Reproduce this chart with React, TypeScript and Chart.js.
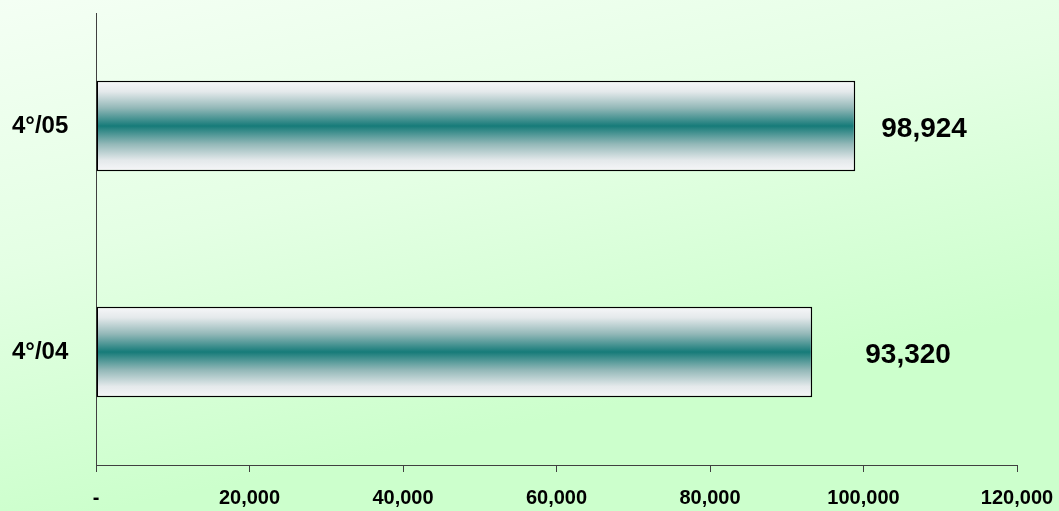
import React, { useEffect, useRef } from "react";
import { Chart, registerables } from "chart.js";

Chart.register(...registerables);

const categories = ["4°/05", "4°/04"];
const values = [98924, 93320];
const xMin = 0;
const xMax = 120000;
const xStep = 20000;

const FONT = "'Liberation Sans', Arial, sans-serif";

const fmt = (v: number) => (v === 0 ? "-" : v.toLocaleString("en-US"));

const bgPlugin = {
  id: "bgGradient",
  beforeDraw(chart: any) {
    const { ctx, width, height } = chart;
    const g = ctx.createLinearGradient(0, 0, width * 0.1, height);
    g.addColorStop(0, "#f4fff4");
    g.addColorStop(0.5, "#e4ffe4");
    g.addColorStop(1, "#ccffcc");
    ctx.save();
    ctx.fillStyle = g;
    ctx.fillRect(0, 0, width, height);
    ctx.restore();
  },
};

const barGradientPlugin = {
  id: "barGradient",
  beforeDatasetsDraw(chart: any) {
    const { ctx } = chart;
    chart.getDatasetMeta(0).data.forEach((bar: any) => {
      const top = bar.y - bar.height / 2;
      const bottom = bar.y + bar.height / 2;
      const g = ctx.createLinearGradient(0, top, 0, bottom);
      g.addColorStop(0, "#f7f7f9");
      g.addColorStop(0.12, "#e4e9eb");
      g.addColorStop(0.3, "#93b8b8");
      g.addColorStop(0.5, "#167b79");
      g.addColorStop(0.7, "#93b8b8");
      g.addColorStop(0.88, "#e4e9eb");
      g.addColorStop(1, "#f7f7f9");
      bar.options = { ...bar.options, backgroundColor: g };
    });
  },
};

const labelGaps = [26, 53];

const valueLabelPlugin = {
  id: "valueLabels",
  afterDatasetsDraw(chart: any) {
    const { ctx } = chart;
    ctx.save();
    ctx.font = `bold 28px ${FONT}`;
    ctx.fillStyle = "#000";
    ctx.textAlign = "left";
    ctx.textBaseline = "middle";
    chart.getDatasetMeta(0).data.forEach((bar: any, i: number) => {
      ctx.fillText(fmt(values[i]), bar.x + labelGaps[i], bar.y + 3);
    });
    ctx.restore();
  },
};

export default function App() {
  const ref = useRef<HTMLCanvasElement | null>(null);

  useEffect(() => {
    if (!ref.current) return;
    const chart = new Chart(ref.current, {
      type: "bar",
      data: {
        labels: categories,
        datasets: [
          {
            data: values,
            backgroundColor: () => "#167b79",
            borderColor: "#000",
            borderWidth: 1.5,
            borderSkipped: false,
            barPercentage: 0.5,
            categoryPercentage: 0.8,
          },
        ],
      },
      options: {
        indexAxis: "y",
        animation: false,
        responsive: true,
        maintainAspectRatio: false,
        layout: { padding: { left: 12, top: 13, right: 42, bottom: 0 } },
        plugins: {
          legend: { display: false },
          tooltip: { enabled: false },
        },
        scales: {
          x: {
            min: xMin,
            max: xMax,
            afterFit: (s: any) => {
              s.height = 46;
              s.paddingLeft = 0;
              s.paddingRight = 0;
            },
            ticks: {
              stepSize: xStep,
              callback: (v: any) => fmt(Number(v)),
              color: "#000",
              font: { family: FONT, size: 20, weight: "bold" },
              padding: 14,
              maxRotation: 0,
            },
            grid: {
              display: true,
              drawOnChartArea: false,
              drawTicks: true,
              tickLength: 7,
              color: "#404040",
            },
            border: { display: true, color: "#404040", width: 1 },
          },
          y: {
            afterFit: (s: any) => {
              s.width = 84;
              s.paddingTop = 0;
              s.paddingBottom = 0;
            },
            ticks: {
              color: "#000",
              font: { family: FONT, size: 24, weight: "bold" },
              padding: 0,
              crossAlign: "far",
            },
            grid: { display: false },
            border: { display: true, color: "#404040", width: 1 },
          },
        },
      },
      plugins: [bgPlugin, barGradientPlugin, valueLabelPlugin],
    });
    return () => chart.destroy();
  }, []);

  return (
    <div style={{ position: "absolute", left: 0, top: 0, width: 1059, height: 511 }}>
      <canvas ref={ref} />
    </div>
  );
}
